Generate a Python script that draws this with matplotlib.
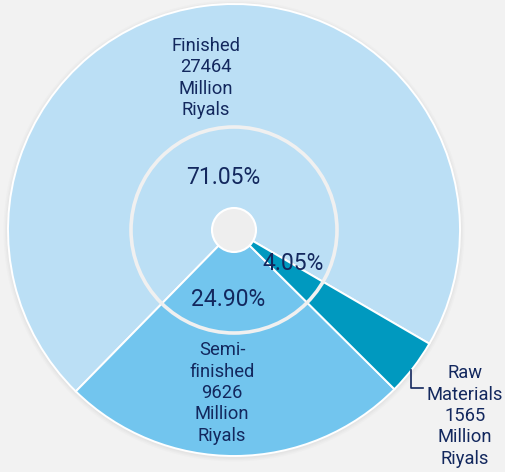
import numpy as np
import matplotlib.pyplot as plt
from matplotlib.patches import Circle

# data
categories = ['Finished', 'Semi-\nfinished', 'Raw\nMaterials']
values = [27464, 9626, 1565]
shares = [71.05, 24.90, 4.05]
colors = ['#bbdff5', '#72c5ee', '#0099bf']
txt = '#13285e'

plt.rcParams['font.family'] = ['Roboto', 'DejaVu Sans']

W, H = 505, 472
fig = plt.figure(figsize=(W / 100, H / 100), dpi=100)
fig.patch.set_facecolor('#f2f2f2')
ax = fig.add_axes([0, 0, 1, 1])

cx, cy = 234, H - 230
R = 226

# soft shadow around the pie
for i, a in enumerate([0.05, 0.04, 0.03]):
    ax.add_patch(Circle((cx, cy - 1), R + 1.5 + i * 1.5, color='#888888', alpha=a, lw=0, zorder=0))

ax.pie(shares, colors=colors, startangle=-30.2, counterclock=True,
       radius=R, center=(cx, cy), frame=True,
       wedgeprops=dict(edgecolor='white', linewidth=1.4))
ax.set_xlim(0, W)
ax.set_ylim(0, H)
ax.set_aspect('equal')
ax.axis('off')

# inner ring and hole
ax.add_patch(Circle((cx, cy), 103, fill=False, edgecolor='#f0f0f0', lw=2.6, zorder=5))
ax.add_patch(Circle((cx, cy), 22, facecolor='#eeeeee', edgecolor='white', lw=1.5, zorder=6))

# percentage labels
pct_pos = [(223, 177), (228, 300), (293, 263)]
for s, (x, y) in zip(shares, pct_pos):
    ax.text(x, H - y, f'{s:.2f}%', ha='center', va='center', fontsize=16.5, color=txt, zorder=7)

# category labels
lab_pos = [(206, 78), (222, 393), (465, 416)]
for c, v, (x, y) in zip(categories, values, lab_pos):
    ax.text(x, H - y, f'{c}\n{v}\nMillion\nRiyals', ha='center', va='center',
            fontsize=13.2, color=txt, linespacing=1.24, zorder=7)

# leader for raw materials
ax.plot([411, 411, 423], [H - 370, H - 388, H - 388], color=txt, lw=1.2, zorder=7)

fig.savefig('out.png', dpi=100, facecolor=fig.get_facecolor())
